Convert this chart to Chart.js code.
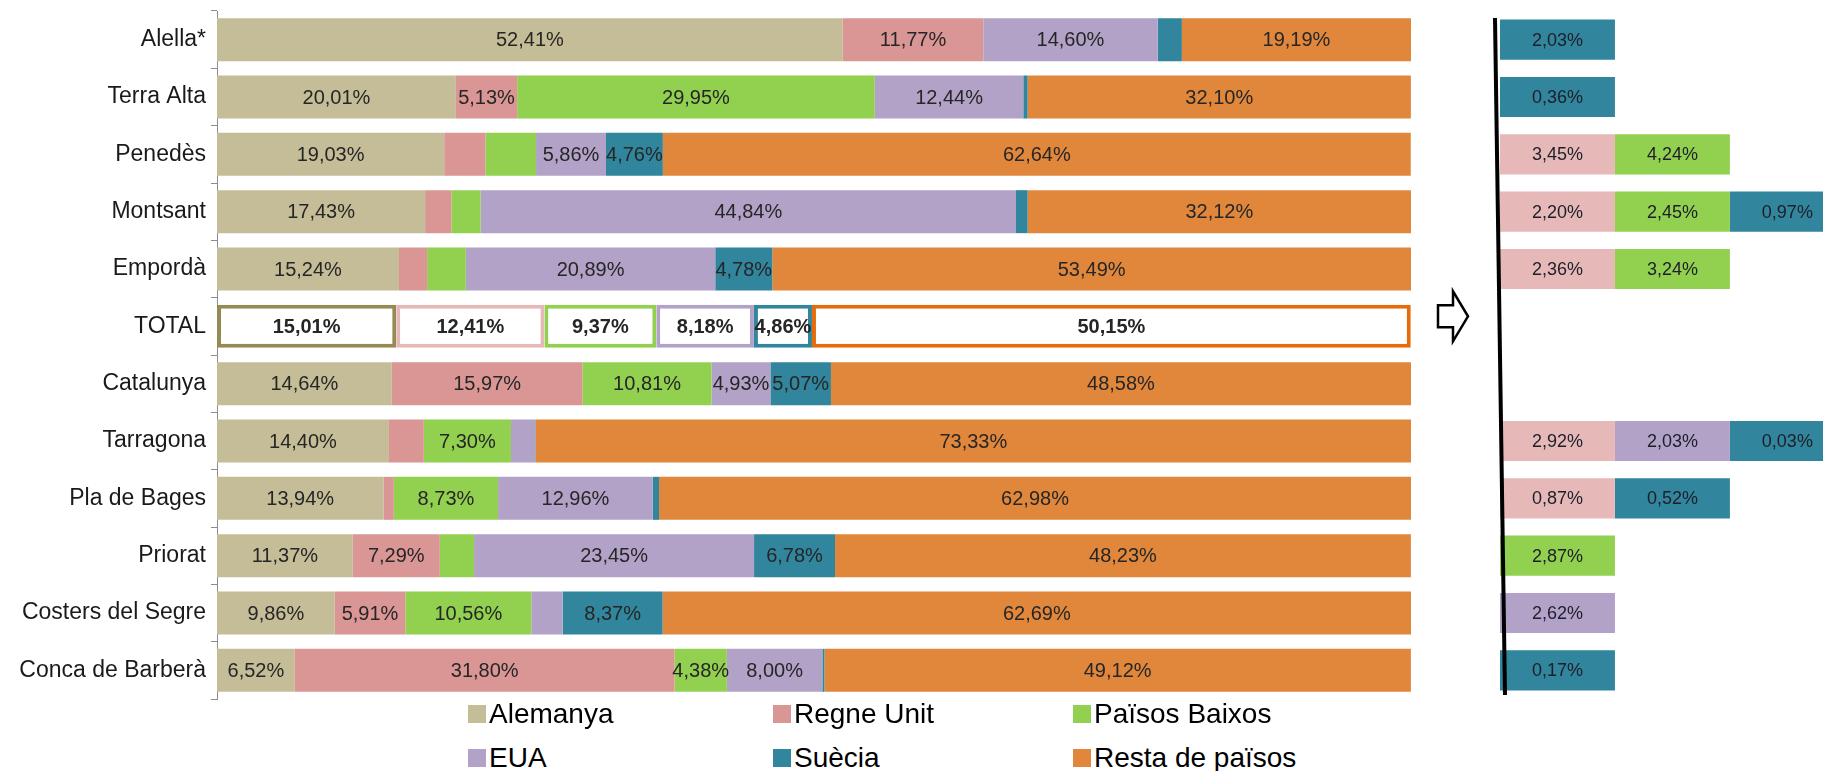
<!DOCTYPE html>
<html>
<head>
<meta charset="utf-8">
<script src="https://cdn.jsdelivr.net/npm/chart.js@4.4.1/dist/chart.umd.min.js"></script>
<style>
    body { margin: 0; background: #fff; width: 1823px; height: 771px; overflow: hidden; position: relative;
           font-family: "Liberation Sans", Arial, sans-serif; }
    #mainBox { position: absolute; left: 0; top: 0; width: 1480px; height: 702px; }
    #sideBox { position: absolute; left: 1480px; top: 0; width: 343px; height: 702px; }
    .leg { position: absolute; height: 32px; display: flex; align-items: center; font-size: 28px; color: #000; white-space: nowrap; }
    .leg i { display: inline-block; width: 18px; height: 18px; margin-right: 3px; }
</style>
</head>
<body>
<div id="mainBox"><canvas id="mainChart"></canvas></div>
<div id="sideBox"><canvas id="sideChart"></canvas></div>
<div id="legend"></div>

<script>
const categories = ['Alella*', 'Terra Alta', 'Penedès', 'Montsant', 'Empordà', 'TOTAL', 'Catalunya',
    'Tarragona', 'Pla de Bages', 'Priorat', 'Costers del Segre', 'Conca de Barberà'];
const seriesNames = ['Alemanya', 'Regne Unit', 'Països Baixos', 'EUA', 'Suècia', 'Resta de països'];

const alemanya     = [52.41, 20.01, 19.03, 17.43, 15.24, 15.01, 14.64, 14.40, 13.94, 11.37, 9.86, 6.52];
const regneUnit    = [11.77, 5.13, 3.45, 2.20, 2.36, 12.41, 15.97, 2.92, 0.87, 7.29, 5.91, 31.80];
const paisosBaixos = [0, 29.95, 4.24, 2.45, 3.24, 9.37, 10.81, 7.30, 8.73, 2.87, 10.56, 4.38];
const eua          = [14.60, 12.44, 5.86, 44.84, 20.89, 8.18, 4.93, 2.03, 12.96, 23.45, 2.62, 8.00];
const suecia       = [2.03, 0.36, 4.76, 0.97, 4.78, 4.86, 5.07, 0.03, 0.52, 6.78, 8.37, 0.17];
const resta        = [19.19, 32.10, 62.64, 32.12, 53.49, 50.15, 48.58, 73.33, 62.98, 48.23, 62.69, 49.12];

// series (by index) whose label is moved to the side panel, per category
const sideSeries = [[4], [4], [1, 2], [1, 2, 4], [1, 2], [], [], [1, 3, 4], [1, 4], [2], [3], [4]];
const totalIndex = 5;

const seriesValues = [alemanya, regneUnit, paisosBaixos, eua, suecia, resta];
const fillColors = ['#C4BD97', '#D99694', '#92D050', '#B3A2C7', '#31859C', '#E0873C'];
const totalBorders = ['#948A54', '#E6B9B8', '#92D050', '#B3A2C7', '#31859C', '#E46C0A'];
const sideColors = ['#C4BD97', '#E6B9B8', '#92D050', '#B3A2C7', '#31859C', '#E0873C'];
const FONT = '"Liberation Sans", Arial, sans-serif';

const fmt = (v) => v.toFixed(2).replace('.', ',') + '%';

// labels inside the stacked bars
const barLabels = {
    id: 'barLabels',
    afterDatasetsDraw(chart) {
        const ctx = chart.ctx;
        ctx.save();
        ctx.textAlign = 'center';
        ctx.textBaseline = 'middle';
        ctx.fillStyle = '#262626';
        chart.data.datasets.forEach((ds, i) => {
            chart.getDatasetMeta(i).data.forEach((bar, j) => {
                const v = ds.data[j];
                if (!v || sideSeries[j].includes(i)) return;
                ctx.font = (j === totalIndex ? 'bold ' : '') + '20px ' + FONT;
                ctx.fillText(fmt(v), (bar.x + bar.base) / 2, bar.y + 1);
            });
        });
        ctx.restore();
    }
};

// outline arrow next to the TOTAL row
const arrowMark = {
    id: 'arrowMark',
    afterDraw(chart) {
        const ctx = chart.ctx;
        const y = chart.scales.y.getPixelForValue(totalIndex) - 10;
        const x = chart.chartArea.right + 27;
        ctx.save();
        ctx.beginPath();
        ctx.moveTo(x, y - 11);
        ctx.lineTo(x + 15, y - 11);
        ctx.lineTo(x + 15, y - 25);
        ctx.lineTo(x + 30, y);
        ctx.lineTo(x + 15, y + 25);
        ctx.lineTo(x + 15, y + 11);
        ctx.lineTo(x, y + 11);
        ctx.closePath();
        ctx.fillStyle = '#fff';
        ctx.fill();
        ctx.lineWidth = 2.5;
        ctx.strokeStyle = '#000';
        ctx.stroke();
        ctx.restore();
    }
};

new Chart(document.getElementById('mainChart'), {
    type: 'bar',
    data: {
        labels: categories,
        datasets: seriesValues.map((vals, i) => ({
            label: seriesNames[i],
            data: vals,
            backgroundColor: categories.map((c, j) => j === totalIndex ? '#FFFFFF' : fillColors[i]),
            borderColor: totalBorders[i],
            borderWidth: categories.map((c, j) => j === totalIndex ? 4 : 0),
            borderSkipped: false,
            barPercentage: 0.75,
            categoryPercentage: 1
        }))
    },
    options: {
        indexAxis: 'y',
        responsive: true,
        maintainAspectRatio: false,
        animation: false,
        layout: {padding: {top: 11, right: 69, bottom: 3, left: 0}},
        plugins: {legend: {display: false}, tooltip: {enabled: false}},
        scales: {
            x: {stacked: true, min: 0, max: 100, display: false},
            y: {
                stacked: true,
                grid: {drawOnChartArea: false, tickLength: 6, color: '#8c8c8c'},
                border: {color: '#8c8c8c'},
                ticks: {padding: 5, color: '#1a1a1a', font: {size: 23, family: FONT}},
                afterFit(scale) {
                    scale.width = 217;
                    scale.paddingTop = 0;
                    scale.paddingBottom = 0;
                }
            }
        }
    },
    plugins: [barLabels, arrowMark]
});

// side panel: one box per moved label
const sideLabels = {
    id: 'sideLabels',
    afterDatasetsDraw(chart) {
        const ctx = chart.ctx;
        const area = chart.chartArea;
        ctx.save();
        ctx.textAlign = 'center';
        ctx.textBaseline = 'middle';
        ctx.fillStyle = '#1e1e2a';
        ctx.font = '18px ' + FONT;
        chart.data.datasets.forEach((ds, i) => {
            chart.getDatasetMeta(i).data.forEach((bar, j) => {
                if (ds.data[j] == null) return;
                ctx.fillText(fmt(seriesValues[i][j]), (bar.x + bar.base) / 2, bar.y + 1);
            });
        });
        // black separator line
        ctx.beginPath();
        ctx.moveTo(area.left - 5, area.top + 7);
        ctx.lineTo(area.left + 5, area.bottom - 4);
        ctx.lineWidth = 4;
        ctx.strokeStyle = '#000';
        ctx.stroke();
        ctx.restore();
    }
};

new Chart(document.getElementById('sideChart'), {
    type: 'bar',
    data: {
        labels: categories,
        datasets: seriesNames.map((name, i) => ({
            label: name,
            data: categories.map((c, j) => sideSeries[j].includes(i) ? 1 : null),
            backgroundColor: sideColors[i],
            borderWidth: 0,
            barPercentage: 0.7,
            categoryPercentage: 1
        }))
    },
    options: {
        indexAxis: 'y',
        responsive: true,
        maintainAspectRatio: false,
        animation: false,
        layout: {padding: {top: 11, right: 0, bottom: 3, left: 20}},
        plugins: {legend: {display: false}, tooltip: {enabled: false}},
        scales: {
            x: {stacked: true, min: 0, max: 2.81, display: false},
            y: {stacked: true, display: false}
        }
    },
    plugins: [sideLabels]
});

// legend, two rows of three
const legendCols = [468, 773, 1073];
const legendRows = [698, 742];
const legend = document.getElementById('legend');
seriesNames.forEach((name, i) => {
    const item = document.createElement('div');
    item.className = 'leg';
    item.style.left = legendCols[i % 3] + 'px';
    item.style.top = legendRows[Math.floor(i / 3)] + 'px';
    item.innerHTML = '<i style="background:' + fillColors[i] + '"></i>' + name;
    legend.appendChild(item);
});
</script>
</body>
</html>
